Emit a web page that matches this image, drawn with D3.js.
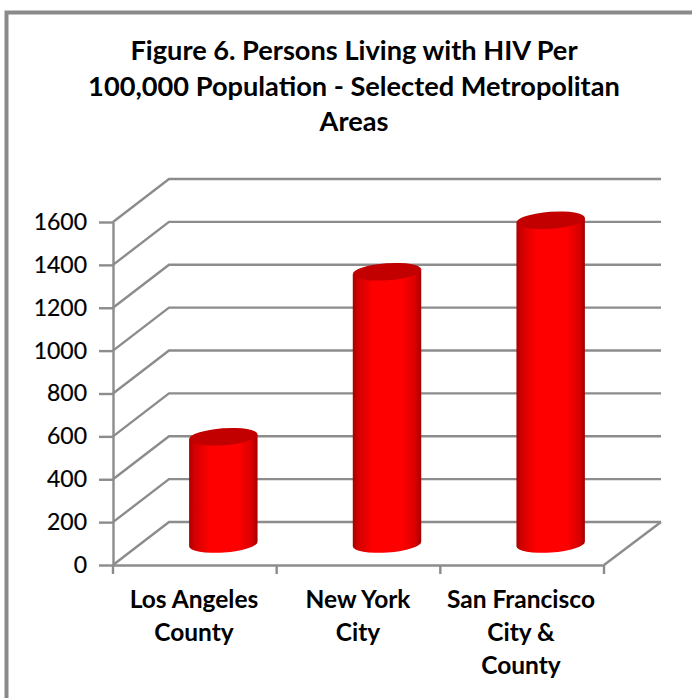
<!DOCTYPE html>
<html><head><meta charset="utf-8">
<script src="https://cdn.jsdelivr.net/npm/d3@7"></script>
<style>html,body{margin:0;padding:0;background:#fff}svg{display:block}text{font-family:Lato,sans-serif;fill:#000}</style>
</head><body><svg id="c" width="692" height="698"></svg>
<script>
const categories = [["Los Angeles","County"],["New York","City"],["San Francisco","City &","County"]];
const values = [500,1270,1510];
const yTicks = [0,200,400,600,800,1000,1200,1400,1600];
const titleLines = ["Figure 6. Persons Living with HIV Per","100,000 Population - Selected Metropolitan","Areas"];
const W=692,H=698, grid="#8c8c8c", gw=2.4;
const svg=d3.select("#c");
const defs=svg.append("defs");
const g=defs.append("linearGradient").attr("id","cyl");
[[0,"#a80000"],[.07,"#d00000"],[.3,"#ff0000"],[.72,"#ff0000"],[.92,"#d80000"],[1,"#a00000"]].forEach(s=>g.append("stop").attr("offset",s[0]).attr("stop-color",s[1]));
const f=defs.append("filter").attr("id","soft").attr("x","-5%").attr("y","-5%").attr("width","110%").attr("height","110%");
f.append("feGaussianBlur").attr("stdDeviation",.5);

// frame
svg.append("path").attr("d",`M6.5,${H}V12.5H${W}`).attr("fill","none").attr("stroke","#8a8a8a").attr("stroke-width",4);

// title
svg.append("g").selectAll("text").data(titleLines).join("text")
 .attr("x",354).attr("y",(d,i)=>[60,96,131][i]).attr("text-anchor","middle")
 .attr("font-size",27.2).attr("font-weight",700).text(d=>d);

// scales
const x=d3.scaleBand().domain(d3.range(categories.length)).range([113,604]);
const y=d3.scaleLinear().domain([0,1600]).range([565,222]);
const dx=56,dy=-43;
const backX1=661;

// walls / gridlines
const gl=svg.append("g").attr("fill","none").attr("stroke",grid).attr("stroke-width",gw);
yTicks.forEach(t=>{
 gl.append("path").attr("d",`M${x.range()[0]},${y(t)}L${x.range()[0]+dx},${y(t)+dy}H${backX1}`);
});
// floor edge and right
gl.append("path").attr("d",`M${backX1},${y(0)+dy}L${x.range()[1]},${y(0)}`);

// axes
const yAxis=d3.axisLeft(y).tickValues(yTicks).tickFormat(d3.format("d")).tickSize(14).tickSizeOuter(0).tickPadding(11);
const ya=svg.append("g").attr("transform",`translate(${x.range()[0]},0)`).call(yAxis);
ya.selectAll("text").attr("font-size",23).style("font-family","Lato,sans-serif").attr("dx",-1).attr("stroke","#000").attr("stroke-width",.2);
const xa=svg.append("g").attr("transform",`translate(0,${y(0)})`).call(d3.axisBottom(x).tickValues([]).tickSizeOuter(0));
xa.append("g").selectAll("line").data(d3.range(categories.length+1)).join("line")
 .attr("x1",d=>x.range()[0]+d*x.bandwidth()).attr("x2",d=>x.range()[0]+d*x.bandwidth()).attr("y1",0).attr("y2",9).attr("stroke",grid).attr("stroke-width",gw);
[ya,xa].forEach(a=>{a.selectAll(".domain,.tick line").attr("stroke",grid).attr("stroke-width",gw);a.selectAll(".domain").attr("fill","none")});

// cylinders
const rx=34.3, ry=8.5, tilt=-4;
const shift=28.5, baseY=v=>y(v)-21;
const bars=svg.append("g").selectAll("g").data(values).join("g").attr("filter","url(#soft)");
bars.each(function(v,i){
 const cx=x(i)+x.bandwidth()/2+shift, top=baseY(v), bot=baseY(0);
 const a=tilt*Math.PI/180, ex=rx*Math.cos(a), ey=rx*Math.sin(a);
 const s=d3.select(this);
 s.append("path").attr("fill","url(#cyl)")
  .attr("d",`M${cx-ex},${top-ey}L${cx-ex},${bot-ey}A${rx},${ry} ${tilt} 0 0 ${cx+ex},${bot+ey}L${cx+ex},${top+ey}Z`);
 s.append("ellipse").attr("cx",cx).attr("cy",top).attr("rx",rx).attr("ry",ry)
  .attr("transform",`rotate(${tilt} ${cx} ${top})`).attr("fill","#c20000");
});

// category labels
const cx=[194,358,521];
const lab=svg.append("g");
categories.forEach((lines,i)=>lines.forEach((t,j)=>{
 lab.append("text").attr("x",cx[i]).attr("y",608+j*33).attr("text-anchor","middle").attr("font-size",24.5).attr("font-weight",700).text(t);
}));
</script></body></html>
